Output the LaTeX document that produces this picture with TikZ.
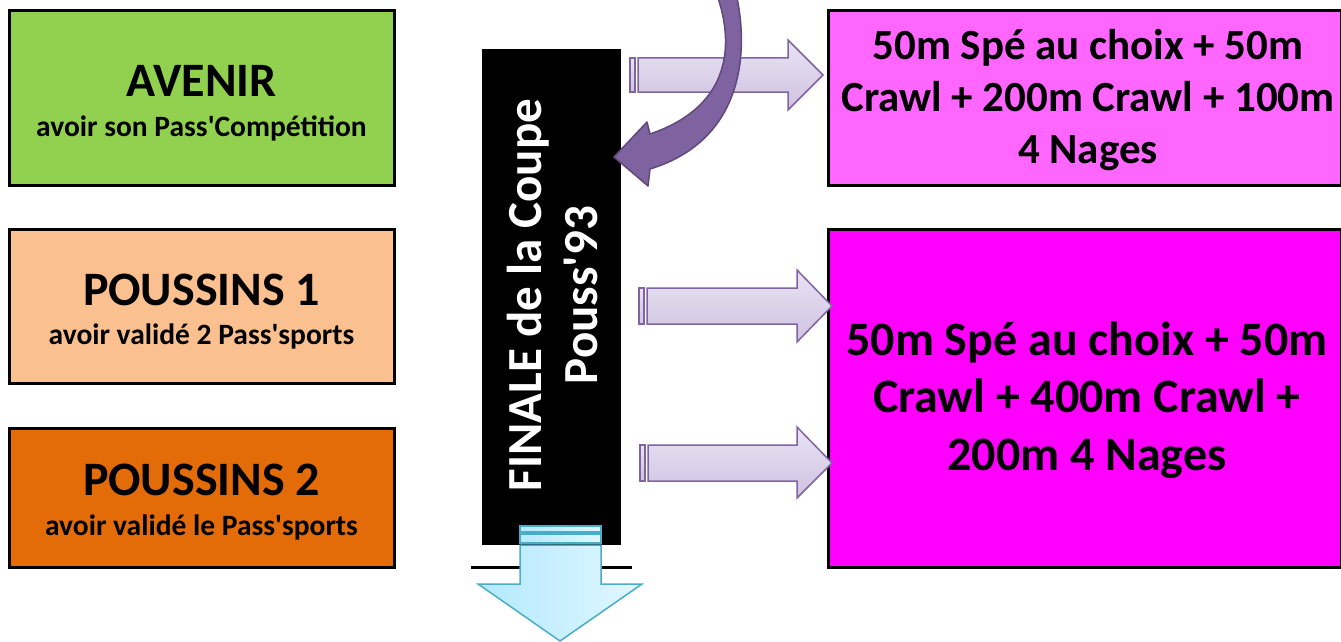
\documentclass[tikz,border=0pt]{standalone}
\usepackage{fontspec}
\setmainfont{Carlito}
\newcommand\ap{\XeTeXglyph\XeTeXcharglyph"27\relax}
\begin{document}
\begin{tikzpicture}[x=1pt,y=-1pt,
  box/.style={draw=black,line width=3pt,minimum width=385pt,inner sep=0pt,align=center,font=\bfseries},
  rbox/.style={draw=black,line width=3pt,minimum width=513pt,inner sep=0pt,align=center,font=\bfseries},
  ttl/.style={font=\bfseries\fontsize{48}{52}\selectfont},
  sub/.style={font=\bfseries\fontsize{29.5}{32}\selectfont},
  parrow/.style={draw=purpleline,line width=1.5pt,top color=lav1,bottom color=lav2,line join=miter},
  barrow/.style={draw=cyanline,line width=1.5pt,left color=cyan1,right color=cyan2}
]
\definecolor{avgreen}{HTML}{92D050}
\definecolor{p1orange}{HTML}{FAC090}
\definecolor{p2orange}{HTML}{E36C09}
\definecolor{pinkA}{HTML}{FF66FF}
\definecolor{pinkB}{HTML}{FF00FF}
\definecolor{purpleline}{HTML}{8064A2}
\definecolor{lav1}{HTML}{E9E3F3}
\definecolor{lav2}{HTML}{CFC2E2}
\definecolor{cyanline}{HTML}{4BACC6}
\definecolor{cyan1}{HTML}{B3E9FF}
\definecolor{cyan2}{HTML}{E0F7FF}
\definecolor{curvefill}{HTML}{7F63A1}
\definecolor{curveline}{HTML}{5F497A}
\useasboundingbox (0,0) rectangle (1341,642);

% left boxes
\node[box,fill=avgreen,minimum height=174pt] (avenir) at (201.5,98) {};
\node[ttl] (avt) at (201.5,81) {AVENIR};
\node[sub] (avs) at (201.5,128) {avoir son Pass\ap Compétition};

\node[box,fill=p1orange,minimum height=154pt] (p1) at (201.5,306) {};
\node[ttl] (p1t) at (201.5,290) {POUSSINS 1};
\node[sub] (p1s) at (201.5,336) {avoir validé 2 Pass\ap sports};

\node[box,fill=p2orange,minimum height=139pt] (p2) at (201.5,497.5) {};
\node[ttl] (p2t) at (201.5,480) {POUSSINS 2};
\node[sub] (p2s) at (201.5,527) {avoir validé le Pass\ap sports};

% right boxes
\node[rbox,fill=pinkA,minimum height=174pt] (r1) at (1084.5,98) {};
\node[font=\bfseries\fontsize{43}{52}\selectfont,align=center] (r1t) at (1088,100)
  {50m Spé au choix + 50m\\Crawl + 200m Crawl + 100m\\4 Nages};
\node[rbox,fill=pinkB,minimum height=338pt] (r2) at (1084.5,398) {};
\node[font=\bfseries\fontsize{48}{57.5}\selectfont,align=center] (r2t) at (1087,400)
  {50m Spé au choix + 50m\\Crawl + 400m Crawl +\\200m 4 Nages};

% horizontal line under bar
\coordinate (hl1) at (471,567);
\coordinate (hl2) at (632,567);
\draw[line width=3pt] (hl1) -- (hl2);

% black bar
\node[fill=black,minimum width=139pt,minimum height=496pt,inner sep=0pt] (bar) at (551.5,297) {};
\node[rotate=90,text=white,font=\bfseries\fontsize{49}{56}\selectfont,align=center] (bart) at (552,295)
  {FINALE de la Coupe\\Pouss\ap 93};

% down arrow
\draw[barrow] (520,526) rectangle (601,532);
\draw[barrow] (520,534) rectangle (601,543);
\draw[barrow] (520,545) -- (601,545) -- (601,584) -- (642,584) -- (560,641) -- (478,584) -- (520,584) -- cycle;

% straight arrows
\draw[parrow] (630,58) rectangle (635,92);
\draw[parrow] (638,58) -- (788,58) -- (788,40) -- (823,75) -- (788,110) -- (788,92) -- (638,92) -- cycle;

\draw[parrow] (639,288) rectangle (644,324);
\draw[parrow] (647,288) -- (797,288) -- (797,270) -- (832,306) -- (797,342) -- (797,324) -- (647,324) -- cycle;

\draw[parrow] (640,445) rectangle (645,481);
\draw[parrow] (648,445) -- (797,445) -- (797,427) -- (832,463) -- (797,498) -- (797,481) -- (648,481) -- cycle;

% curved arrow
\draw[fill=curvefill,draw=curveline,line width=1.5pt,line join=round]
  (718,-2) .. controls (732,40) and (735,105) .. (650,134)
  -- (647,122) -- (614,157) -- (648,186) -- (650,169)
  .. controls (745,140) and (748,50) .. (737,-2) -- cycle;
\end{tikzpicture}
\end{document}
